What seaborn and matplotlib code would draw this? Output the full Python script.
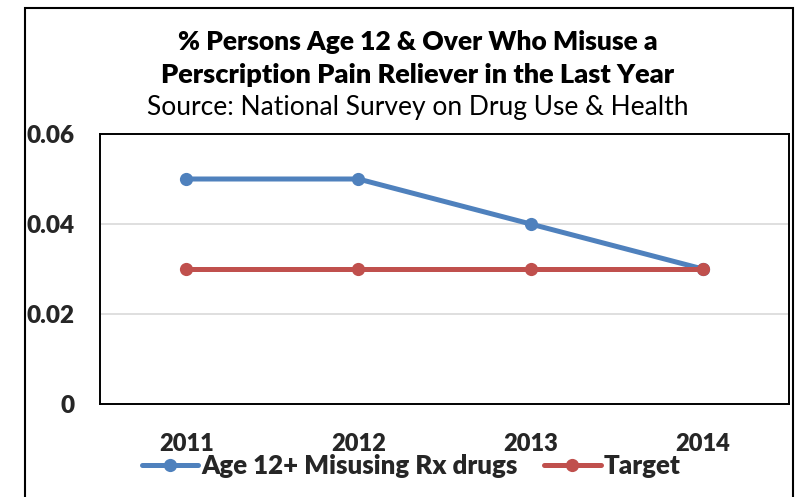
import matplotlib
matplotlib.use("Agg")
import matplotlib.pyplot as plt
import seaborn as sns
import pandas as pd
from matplotlib.lines import Line2D
from matplotlib.patches import Rectangle

# Survey values and target by year
years = ["2011", "2012", "2013", "2014"]
misuse = [0.05, 0.05, 0.04, 0.03]
target = [0.03, 0.03, 0.03, 0.03]
series_names = ["Age 12+ Misusing Rx drugs", "Target"]
yticks = [0, 0.02, 0.04, 0.06]
ytick_labels = ["0", "0.02", "0.04", "0.06"]

title_lines = [
    "% Persons Age 12 & Over Who Misuse a",
    "Perscription Pain Reliever in the Last Year",
]
subtitle = "Source: National Survey on Drug Use & Health"

sns.set_theme(style="white")
plt.rcParams["font.family"] = ["Lato", "DejaVu Sans"]

colors = {series_names[0]: "#4F81BD", series_names[1]: "#C0504D"}

df = pd.DataFrame({
    "pos": list(range(len(years))) * 2,
    "value": misuse + target,
    "series": [series_names[0]] * len(years) + [series_names[1]] * len(years),
})

W, H = 796, 497
fig = plt.figure(figsize=(W / 100, H / 100), dpi=100)
fig.patch.set_facecolor("white")

# plot area in pixel terms
left, right, top, bottom = 100, 789, 134, 404
ax = fig.add_axes([left / W, 1 - bottom / H, (right - left) / W, (bottom - top) / H])

sns.lineplot(data=df, x="pos", y="value", hue="series", palette=colors,
             marker="o", markersize=9.5, markeredgewidth=0, linewidth=3.6,
             ax=ax, legend=False)

ax.set_xlim(-0.5, len(years) - 0.5)
ax.set_ylim(0, 0.06)
ax.set_yticks(yticks)
ax.set_yticklabels(ytick_labels, fontsize=17.5, fontweight="heavy")
ax.set_xticks(range(len(years)))
ax.set_xticklabels(years, fontsize=17, fontweight="heavy")
ax.tick_params(axis="y", length=0, pad=18)
ax.tick_params(axis="x", length=0, pad=21)
ax.set_xlabel("")
ax.set_ylabel("")

ax.yaxis.grid(True, color="#D9D9D9", linewidth=1.2)
ax.set_axisbelow(True)
for s in ax.spines.values():
    s.set_visible(True)
    s.set_color("black")
    s.set_linewidth(1.4)

# titles
cx = 418 / W
fig.text(cx, 1 - 42 / H, title_lines[0], ha="center", va="center",
         fontsize=19, fontweight="heavy", color="black")
fig.text(cx, 1 - 75 / H, title_lines[1], ha="center", va="center",
         fontsize=19.5, fontweight="heavy", color="black")
fig.text(cx, 1 - 108 / H, subtitle, ha="center", va="center",
         fontsize=19, color="black")

# legend below the axis labels
fs_leg = 18.6
handles = [Line2D([], [], color=colors[n], lw=3.6, marker="o", markersize=9.5,
                  markeredgewidth=0) for n in series_names]
fig.legend(handles, series_names, loc="center", bbox_to_anchor=(411 / W, 1 - 466 / H),
           ncol=2, frameon=False, handlelength=2.2, handletextpad=0.12,
           columnspacing=1.0, borderpad=0, borderaxespad=0,
           prop={"size": fs_leg, "weight": "heavy"})

# outer chart border (runs off the bottom edge)
fig.patches.append(Rectangle((25 / W, -0.05), (793 - 25) / W, (H - 8) / H + 0.05,
                             transform=fig.transFigure, fill=False,
                             edgecolor="black", linewidth=1.5))

fig.savefig("out.png", dpi=100)
